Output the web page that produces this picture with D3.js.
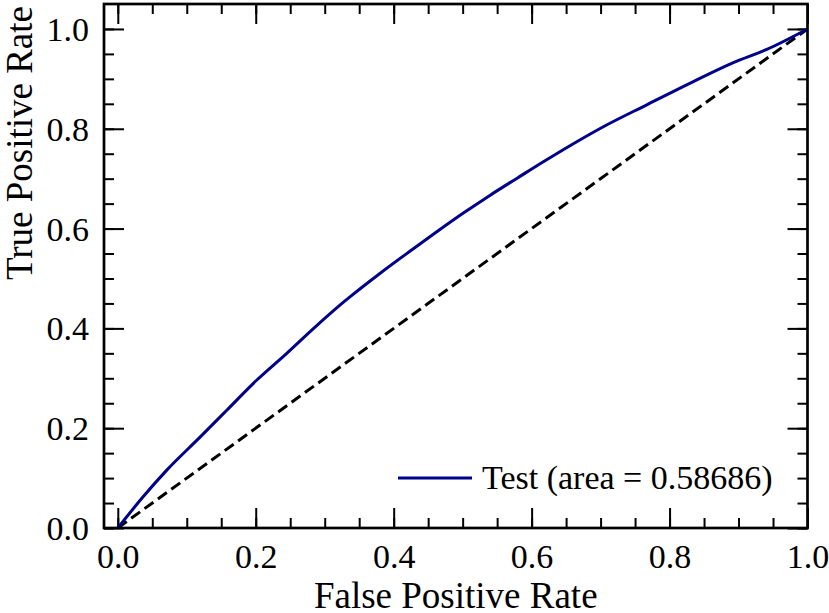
<!DOCTYPE html>
<html>
<head>
<meta charset="utf-8">
<script src="https://cdn.jsdelivr.net/npm/d3@7/dist/d3.min.js"></script>
<style>
  html, body { margin: 0; padding: 0; background: #fff; }
  svg text { font-family: "Liberation Serif", "Times New Roman", serif; fill: #000; }
</style>
</head>
<body>
<svg id="chart" width="829" height="613"></svg>
<script>
// ROC curve points (false positive rate, true positive rate)
const fpr = [0.0, 0.037, 0.071, 0.12, 0.158, 0.202, 0.245, 0.284, 0.3225, 0.337, 0.38, 0.424, 0.463, 0.501, 0.54, 0.579, 0.617, 0.641, 0.668, 0.704, 0.767, 0.8345, 0.8925, 0.941, 1.0];
const tpr = [0.0, 0.063, 0.116, 0.183, 0.236, 0.297, 0.35, 0.40, 0.447, 0.4635, 0.51, 0.555, 0.594, 0.631, 0.667, 0.701, 0.734, 0.754, 0.776, 0.804, 0.848, 0.8945, 0.9325, 0.959, 1.0];
const chanceX = [0, 1];
const chanceY = [0, 1];
const xTicks = [0.0, 0.2, 0.4, 0.6, 0.8, 1.0];
const yTicks = [0.0, 0.2, 0.4, 0.6, 0.8, 1.0];
const legendLabel = "Test (area = 0.58686)";
const xLabel = "False Positive Rate";
const yLabel = "True Positive Rate";

const svg = d3.select("#chart");
const L = 104, R = 807.5, T = 4, B = 528;
const x = d3.scaleLinear().domain([-0.02, 1.0]).range([L, R]);
const y = d3.scaleLinear().domain([0, 1.05]).range([B, T]);

const minorX = d3.range(0, 1.0001, 0.05);
const minorY = d3.range(0, 1.0001, 0.05);

const fs = 34;

function styleAxis(g) {
  g.select(".domain").remove();
  g.selectAll(".tick line").attr("stroke", "#000").attr("stroke-width", 2);
}

// minor ticks (inward, all four sides)
svg.append("g").attr("transform", `translate(0,${B})`)
  .call(d3.axisBottom(x).tickValues(minorX).tickSize(-10).tickFormat(""))
  .call(styleAxis);
svg.append("g").attr("transform", `translate(0,${T})`)
  .call(d3.axisTop(x).tickValues(minorX).tickSize(-10).tickFormat(""))
  .call(styleAxis);
svg.append("g").attr("transform", `translate(${L},0)`)
  .call(d3.axisLeft(y).tickValues(minorY).tickSize(-10).tickFormat(""))
  .call(styleAxis);
svg.append("g").attr("transform", `translate(${R},0)`)
  .call(d3.axisRight(y).tickValues(minorY).tickSize(-10).tickFormat(""))
  .call(styleAxis);

// major ticks
const xb = svg.append("g").attr("transform", `translate(0,${B})`)
  .call(d3.axisBottom(x).tickValues(xTicks).tickSize(-20).tickFormat(d3.format(".1f")))
  .call(styleAxis);
xb.selectAll(".tick text").attr("font-size", fs).attr("font-family", "Liberation Serif").attr("dy", 0).attr("y", 40);
svg.append("g").attr("transform", `translate(0,${T})`)
  .call(d3.axisTop(x).tickValues(xTicks).tickSize(-20).tickFormat(""))
  .call(styleAxis);
const yl = svg.append("g").attr("transform", `translate(${L},0)`)
  .call(d3.axisLeft(y).tickValues(yTicks).tickSize(-20).tickFormat(d3.format(".1f")))
  .call(styleAxis);
yl.selectAll(".tick text").attr("font-size", fs).attr("font-family", "Liberation Serif").attr("x", -15).attr("dy", "0.34em");
svg.append("g").attr("transform", `translate(${R},0)`)
  .call(d3.axisRight(y).tickValues(yTicks).tickSize(-20).tickFormat(""))
  .call(styleAxis);

// chance diagonal
svg.append("path")
  .datum(d3.zip(chanceX, chanceY))
  .attr("fill", "none").attr("stroke", "#000").attr("stroke-width", 3)
  .attr("stroke-dasharray", "11,5.5")
  .attr("d", d3.line().x(d => x(d[0])).y(d => y(d[1])));

// ROC curve
svg.append("path")
  .datum(d3.zip(fpr, tpr))
  .attr("fill", "none").attr("stroke", "#00008b").attr("stroke-width", 3)
  .attr("stroke-linejoin", "round")
  .attr("d", d3.line().curve(d3.curveMonotoneX).x(d => x(d[0])).y(d => y(d[1])));

// frame
svg.append("rect").attr("x", L).attr("y", T).attr("width", R - L).attr("height", B - T)
  .attr("fill", "none").attr("stroke", "#000").attr("stroke-width", 2.7);

// legend
svg.append("line").attr("x1", 398).attr("x2", 472).attr("y1", 478).attr("y2", 478)
  .attr("stroke", "#00008b").attr("stroke-width", 3);
svg.append("text").attr("x", 482).attr("y", 489).attr("font-size", fs).text(legendLabel);

// axis labels
svg.append("text").attr("x", (L + R) / 2).attr("y", 608).attr("text-anchor", "middle")
  .attr("font-size", 37).text(xLabel);
svg.append("text").attr("transform", `translate(32,${T + 2}) rotate(-90)`)
  .attr("text-anchor", "end").attr("font-size", 37).text(yLabel);
</script>
</body>
</html>
